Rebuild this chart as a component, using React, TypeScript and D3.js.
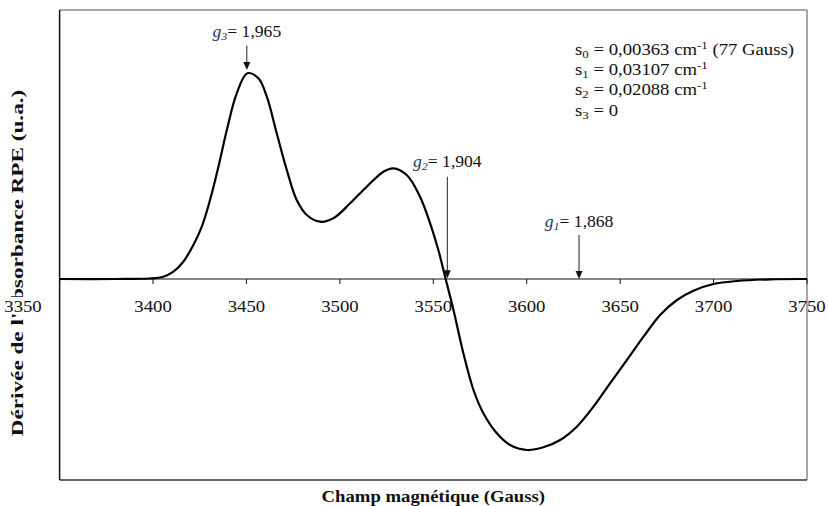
import React from "react";
import * as d3 from "d3";

const fieldGauss = [3350, 3380, 3398, 3405.5, 3410.9, 3416.2, 3421.6, 3426.1, 3430.5, 3435.0, 3439.5, 3444.8, 3450.5, 3456.4, 3460.9, 3466.2, 3471.6, 3476.9, 3482.3, 3489.4, 3496.5, 3505.5, 3514.4, 3523.3, 3528.6, 3535.8, 3542.9, 3548.3, 3552.7, 3556.3, 3560.8, 3566.1, 3571.5, 3576.8, 3584.0, 3591.1, 3600.1, 3608.9, 3617.9, 3626.8, 3635.7, 3644.6, 3653.6, 3662.5, 3671.4, 3680.4, 3689.2, 3699.9, 3712.5, 3730.3, 3750];
const signal = [0, 0, 0.5, 2.3, 7.3, 17.3, 34, 52.3, 79, 112.3, 149, 185.7, 205.7, 200.7, 182.3, 145.7, 109, 79, 64, 57.3, 60.7, 75.7, 92.3, 107.3, 110.7, 104, 82.3, 55.7, 29, 2.3, -31, -74.3, -111, -134.3, -154.3, -166, -171, -168.3, -161, -147.7, -127.7, -104.3, -81, -57.7, -36, -21, -11.7, -5, -2, -0.3, 0];

const xTicks = [3350, 3400, 3450, 3500, 3550, 3600, 3650, 3700, 3750];

const gIndex = ["3", "2", "1"];
const gValue = ["1,965", "1,904", "1,868"];
const gField = [3450.2, 3557.5, 3628];
const gArrowTop = [233.3, 102.3, 44];
const gArrowTip = [209, 0.7, 0];
const gLabelY = [242.5, 112.3, 52.3];

const sIndex = ["0", "1", "2", "3"];
const sValue = ["0,00363 cm", "0,03107 cm", "0,02088 cm", "0"];
const sUnitSup = ["-1", "-1", "-1", ""];
const sTail = [" (77 Gauss)", "", "", ""];

const xTitle = "Champ magnétique (Gauss)";
const yTitle = "Dérivée de l'absorbance RPE (u.a.)";

const W = 828;
const H = 506;
const left = 59.6, right = 807, top = 10, bottom = 480;
const SX = 1.17;
const FONT = "'Liberation Serif', 'Times New Roman', serif";

export default function App() {
  const x = d3.scaleLinear().domain([3350, 3750]).range([left, right]);
  const y = d3.scaleLinear().domain([-201, 269]).range([bottom, top]);
  const pts: [number, number][] = fieldGauss.map((g, i) => [g, signal[i]]);
  const line = d3
    .line<[number, number]>()
    .x((d) => x(d[0]))
    .y((d) => y(d[1]))
    .curve(d3.curveCatmullRom.alpha(0.5));
  const y0 = y(0);

  return (
    <svg width={W} height={H} style={{ position: "absolute", left: 0, top: 0, background: "#fff" }} fontFamily={FONT}>
      <rect x={0} y={0} width={W} height={H} fill="#fff" />
      {/* plot frame */}
      <line x1={left} x2={right} y1={top} y2={top} stroke="#8a8a8a" strokeWidth={1.5} />
      <line x1={right} x2={right} y1={top} y2={bottom} stroke="#8a8a8a" strokeWidth={1.5} />
      <line x1={left} x2={right} y1={bottom} y2={bottom} stroke="#333" strokeWidth={1.3} />
      <line x1={left} x2={left} y1={top} y2={bottom} stroke="#111" strokeWidth={1.5} />
      {/* axis titles */}
      <text
        transform={`translate(${(left + right) / 2},${501.5}) scale(${SX},1)`}
        textAnchor="middle"
        fontSize={16}
        fontWeight="bold"
        fill="#111"
        fontFamily={FONT}
      >
        {xTitle}
      </text>
      <text
        transform={`translate(23,263) rotate(-90) scale(1.45,1.05)`}
        textAnchor="middle"
        fontSize={16}
        fontWeight="bold"
        fill="#111"
        fontFamily={FONT}
      >
        {yTitle}
      </text>
      {/* x axis at zero */}
      <line x1={left} x2={right} y1={y0} y2={y0} stroke="#111" strokeWidth={1.2} />
      {xTicks.map((t, i) => (
        <g key={t}>
          <line x1={x(t)} x2={x(t)} y1={y0} y2={y0 + 5} stroke="#111" strokeWidth={1} />
          {i === 0 && <rect x={3} y={y0 + 18} width={40} height={17} fill="#fff" />}
          <text
            transform={`translate(${i === 0 ? 23 : x(t)},${y0 + 32.5}) scale(${SX},1)`}
            textAnchor="middle"
            fontSize={16}
            fill="#111"
            fontFamily={FONT}
          >
            {t}
          </text>
        </g>
      ))}
      {/* curve */}
      <path d={line(pts) || ""} fill="none" stroke="#000" strokeWidth={2.2} strokeLinejoin="round" />
      {/* g markers */}
      {gField.map((g, i) => {
        const ax = x(g);
        const yt = y(gArrowTop[i]);
        const yp = y(gArrowTip[i]);
        return (
          <g key={i}>
            <line x1={ax} x2={ax} y1={yt} y2={yp - 7} stroke="#222" strokeWidth={1} />
            <path d={`M${ax - 3.5},${yp - 8} L${ax + 3.5},${yp - 8} L${ax},${yp} Z`} fill="#111" />
            <text transform={`translate(${ax},${y(gLabelY[i])}) scale(1.1,1)`} textAnchor="middle" fontSize={16} fill="#111" fontFamily={FONT}>
              <tspan fontStyle="italic" fill="#1F3864">g</tspan>
              <tspan fontStyle="italic" fill="#1F3864" fontSize={11} dy={3}>{gIndex[i]}</tspan>
              <tspan dy={-3}>{"= " + gValue[i]}</tspan>
            </text>
          </g>
        );
      })}
      {/* parameters */}
      {sIndex.map((s, i) => (
        <text key={s} transform={`translate(575,${55 + i * 20.2}) scale(${SX},1)`} fontSize={16} fill="#111" fontFamily={FONT}>
          <tspan>s</tspan>
          <tspan fontSize={11} dy={3}>{s}</tspan>
          <tspan dy={-3}>{" = " + sValue[i]}</tspan>
          {sUnitSup[i] && (
            <tspan fontSize={11} dy={-6}>{sUnitSup[i]}</tspan>
          )}
          {sUnitSup[i] && <tspan dy={6}>{sTail[i]}</tspan>}
        </text>
      ))}
    </svg>
  );
}
